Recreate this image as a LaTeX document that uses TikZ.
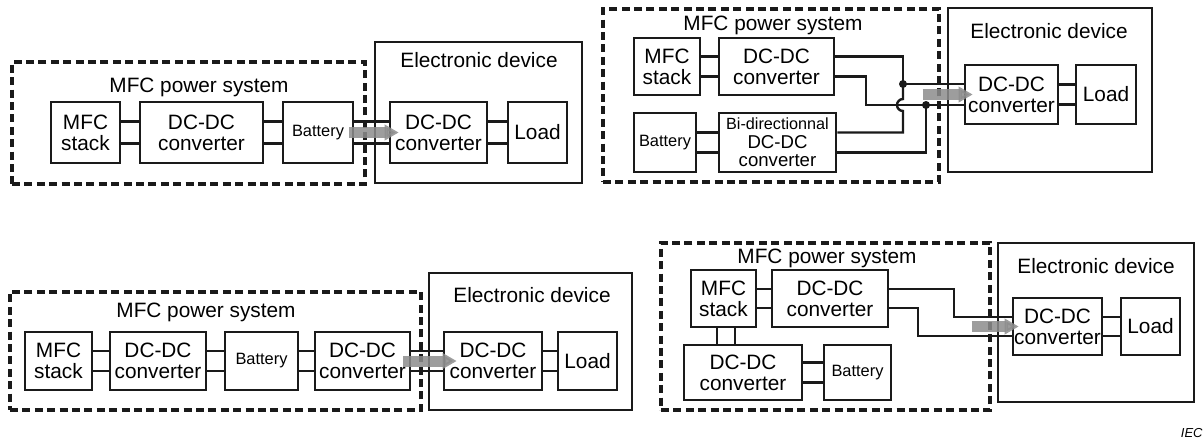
\documentclass[tikz,border=0pt]{standalone}
\usepackage{fontspec}
\setmainfont{Liberation Sans}
\usepackage{tikz}
\usetikzlibrary{arrows.meta}
\definecolor{arrowgray}{HTML}{8C8C8C}
\definecolor{inkblack}{HTML}{1A1A1A}
\newcommand{\mainsize}{\fontsize{10.4}{10.6}\selectfont}
\newcommand{\batsize}{\fontsize{8.2}{9}\selectfont}
\tikzset{
  spans/.style args={#1/#2/#3/#4}{minimum width={(#3-#1)*0.5pt},minimum height={(#4-#2)*0.5pt},
    at={({(#1+#3)/2},{(#2+#4)/2})}},
  blk/.style={draw=inkblack,line width=1.3pt,inner sep=0pt,align=center,font=\mainsize},
  batblk/.style={blk,font=\batsize},
  sysbox/.style={draw=inkblack,line width=1.7pt,dash pattern=on 4pt off 2.2pt,inner sep=0pt},
  devbox/.style={draw=inkblack,line width=1.4pt,inner sep=0pt},
  title/.style={anchor=base,font=\mainsize,inner sep=0pt},
  wire/.style={draw=inkblack,line width=1.2pt},
  feed/.style={line width=5.5pt,draw=arrowgray,opacity=.85,-{Triangle[length=7pt,width=7.5pt]}},
}

\begin{document}
\begin{tikzpicture}[x=.5pt,y=-.5pt]
  \useasboundingbox (0,0) rectangle (1203,441);
  % top left
  \node[sysbox,spans=12/62/365/184] (p1sys) {};
  \node[devbox,spans=375/42/582/183] (p1dev) {};
  \node[title] (p1syst) at (199,92) {MFC power system};
  \node[title] (p1devt) at (479,67) {Electronic device};
  \node[blk,spans=51/102/120/163] (p1mfc) {MFC\\stack};
  \node[blk,spans=140/102/263/163] (p1dc) {DC-DC\\converter};
  \node[batblk,spans=283/102/353/163] (p1bat) {Battery};
  \node[blk,spans=390/102/487/163] (p1ddc) {DC-DC\\converter};
  \node[blk,spans=508/102/567/163] (p1load) {Load};
  \foreach \a/\b in {p1mfc/p1dc,p1dc/p1bat,p1bat/p1ddc,p1ddc/p1load}
    \foreach \s in {5.5pt,-5.5pt}
      \draw[wire] ([yshift=\s]\a.east) -- ([yshift=\s]\b.west);
  \draw[feed] ([xshift=-2.5pt]p1bat.east) -- ([xshift=5pt]p1ddc.west);

  % top right
  \node[sysbox,spans=603/9/939/182] (p2sys) {};
  \node[devbox,spans=948/8/1152/172] (p2dev) {};
  \node[title] (p2syst) at (773,30) {MFC power system};
  \node[title] (p2devt) at (1049,38) {Electronic device};
  \node[blk,spans=634/38/700/95] (p2mfc) {MFC\\stack};
  \node[blk,spans=719/38/834/95] (p2dc) {DC-DC\\converter};
  \node[batblk,spans=634/113/696/172] (p2bat) {Battery};
  \node[blk,spans=719/113/836/172,font=\fontsize{9.3}{9.2}\selectfont] (p2bi)
    {{\fontsize{8.1}{9.2}\selectfont Bi-directionnal}\\DC-DC\\converter};
  \node[blk,spans=965/65/1058/124] (p2ddc) {DC-DC\\converter};
  \node[blk,spans=1076/65/1136/124] (p2load) {Load};
  \coordinate (p2j1) at (903,84);
  \coordinate (p2j2) at (926,105);
  \coordinate (p2k) at (866,105);
  \coordinate (p2h) at (903,105);
  \foreach \a/\b in {p2mfc/p2dc,p2bat/p2bi,p2ddc/p2load}
    \foreach \s in {5pt,-5pt}
      \draw[wire] ([yshift=\s]\a.east) -- ([yshift=\s]\b.west);
  \draw[wire] ([yshift=5pt]p2dc.east) -| (p2j1) -- (p2ddc.west |- p2j1);
  \draw[wire] ([yshift=-5pt]p2dc.east) -| (p2k) -- (p2ddc.west |- p2k);
  \draw[wire] ([yshift=5pt]p2bi.east) -| ([yshift=-3pt]p2h)
    arc[start angle=270,end angle=90,radius=3pt] -- (p2j1);
  \draw[wire] ([yshift=-5pt]p2bi.east) -| (p2j2);
  \fill[inkblack] (p2j1) circle (2pt);
  \fill[inkblack] (p2j2) circle (2pt);
  \draw[feed] ([xshift=-20.5pt]p2ddc.west) -- ([xshift=4.5pt]p2ddc.west);

  % bottom left
  \node[sysbox,spans=10/292/421/410] (p3sys) {};
  \node[devbox,spans=429/273/632/410] (p3dev) {};
  \node[title] (p3syst) at (206,317) {MFC power system};
  \node[title] (p3devt) at (532,302) {Electronic device};
  \node[blk,spans=25/332/92/390] (p3mfc) {MFC\\stack};
  \node[blk,spans=110/332/206/390] (p3dc) {DC-DC\\converter};
  \node[batblk,spans=225/332/298/390] (p3bat) {Battery};
  \node[blk,spans=315/332/410/390] (p3dcb) {DC-DC\\converter};
  \node[blk,spans=444/332/542/390] (p3ddc) {DC-DC\\converter};
  \node[blk,spans=558/332/617/390] (p3load) {Load};
  \foreach \a/\b in {p3mfc/p3dc,p3dc/p3bat,p3bat/p3dcb,p3dcb/p3ddc,p3ddc/p3load}
    \foreach \s in {5pt,-5pt}
      \draw[wire] ([yshift=\s]\a.east) -- ([yshift=\s]\b.west);
  \draw[feed] ([xshift=-4pt]p3dcb.east) -- ([xshift=7pt]p3ddc.west);

  % bottom right
  \node[sysbox,spans=661/243/990/410] (p4sys) {};
  \node[devbox,spans=998/243/1194/402] (p4dev) {};
  \node[title] (p4syst) at (827,263) {MFC power system};
  \node[title] (p4devt) at (1096,273) {Electronic device};
  \node[blk,spans=691/270/756/327] (p4mfc) {MFC\\stack};
  \node[blk,spans=772/270/888/327] (p4dc) {DC-DC\\converter};
  \node[blk,spans=684/345/802/400] (p4dcb) {DC-DC\\converter};
  \node[batblk,spans=824/345/891/400] (p4bat) {Battery};
  \node[blk,spans=1013/298/1102/355] (p4ddc) {DC-DC\\converter};
  \node[blk,spans=1121/298/1180/355] (p4load) {Load};
  \coordinate (p4a) at (954,317);
  \coordinate (p4b) at (918,336);
  \foreach \a/\b in {p4mfc/p4dc,p4ddc/p4load}
    \foreach \s in {4.75pt,-4.75pt}
      \draw[wire] ([yshift=\s]\a.east) -- ([yshift=\s]\b.west);
  \foreach \s in {5pt,-5pt}
    \draw[wire] ([yshift=\s]p4dcb.east) -- ([yshift=\s]p4bat.west);
  \foreach \s in {-3.25pt,5.75pt}
    \draw[wire] ([xshift=\s]p4mfc.south) -- ([xshift=\s]p4mfc.south |- p4dcb.north);
  \draw[wire] ([yshift=4.75pt]p4dc.east) -| (p4a) -- (p4ddc.west |- p4a);
  \draw[wire] ([yshift=-4.75pt]p4dc.east) -| (p4b) -- (p4ddc.west |- p4b);
  \draw[feed] ([xshift=-20pt]p4ddc.west) -- ([xshift=3.5pt]p4ddc.west);

  \node[anchor=base east,inner sep=0pt,font=\fontsize{6.5}{7}\selectfont\itshape] (iec) at (1203,437) {IEC};
\end{tikzpicture}
\end{document}
